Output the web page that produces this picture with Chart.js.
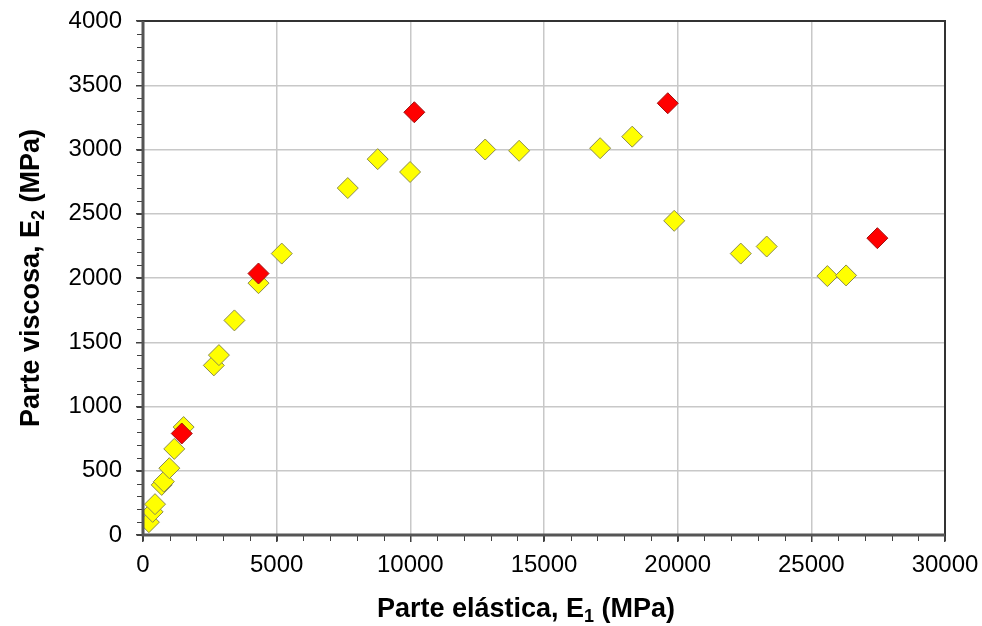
<!DOCTYPE html>
<html lang="es">
<head>
  <meta charset="UTF-8">
  <title>Parte elástica vs parte viscosa</title>
  <style>
    * { margin: 0; padding: 0; box-sizing: border-box; }
    body { background: #fff; width: 982px; height: 626px; overflow: hidden; }
    #wrap { position: relative; width: 982px; height: 626px; }
  </style>
</head>
<body>
  <div id="wrap"><canvas id="chart" width="982" height="626"></canvas></div>

  <script src="https://cdn.jsdelivr.net/npm/chart.js"></script>
  <script>
    // E1 / E2 pairs (MPa)
    const yellowE1 = [220, 360, 450, 700, 780, 985, 1170, 1520, 2650, 2840, 3420, 4320, 5190,
                      7660, 8780, 9990, 12800, 14070, 17100, 18300, 19870, 22360, 23330, 25600, 26300];
    const yellowE2 = [100, 180, 240, 390, 415, 520, 670, 840, 1320, 1400, 1670, 1960, 2190,
                      2700, 2925, 2825, 3000, 2990, 3010, 3100, 2445, 2190, 2245, 2015, 2020];
    const redE1 = [1450, 4320, 10150, 19630, 27470];
    const redE2 = [790, 2035, 3290, 3360, 2310];

    const xTicks = [0, 5000, 10000, 15000, 20000, 25000, 30000];
    const yTicks = [0, 500, 1000, 1500, 2000, 2500, 3000, 3500, 4000];
    const xMinorStep = 1000;
    const yMinorStep = 100;

    const FONT = "'Liberation Sans', Arial, sans-serif";

    function pairs(xs, ys) {
      return xs.map((x, i) => ({ x: x, y: ys[i] }));
    }

    // axis titles with subscripts + minor ticks + frame
    const decorations = {
      id: 'decorations',
      afterDraw(chart) {
        const ctx = chart.ctx;
        const a = chart.chartArea;
        const xs = chart.scales.x, ys = chart.scales.y;
        ctx.save();

        // minor ticks
        ctx.strokeStyle = '#404040';
        ctx.lineWidth = 1;
        ctx.beginPath();
        for (let v = 0; v <= xs.max; v += xMinorStep) {
          const px = Math.round(xs.getPixelForValue(v)) + 0.5;
          ctx.moveTo(px, a.bottom);
          ctx.lineTo(px, a.bottom + 6);
        }
        for (let v = 0; v <= ys.max; v += yMinorStep) {
          const py = Math.round(ys.getPixelForValue(v)) + 0.5;
          ctx.moveTo(a.left, py);
          ctx.lineTo(a.left - 6, py);
        }
        ctx.stroke();

        // plot frame
        ctx.strokeStyle = '#333';
        ctx.lineWidth = 2;
        ctx.strokeRect(a.left, a.top, a.right - a.left, a.bottom - a.top);
        ctx.strokeStyle = '#555';
        ctx.lineWidth = 3;
        ctx.beginPath();
        ctx.moveTo(a.left, a.top);
        ctx.lineTo(a.left, a.bottom);
        ctx.lineTo(a.right, a.bottom);
        ctx.stroke();

        // titles
        ctx.fillStyle = '#000';
        ctx.textBaseline = 'alphabetic';
        drawSubTitle(ctx, ['Parte elástica, E', '1', ' (MPa)'], 526, 617, 0);
        drawSubTitle(ctx, ['Parte viscosa, E', '2', ' (MPa)'], 39, (a.top + a.bottom) / 2, -Math.PI / 2);
        ctx.restore();
      }
    };

    function drawSubTitle(ctx, parts, cx, cy, rot) {
      const big = 'bold 27px ' + FONT;
      const small = 'bold 18px ' + FONT;
      ctx.font = big;
      const w0 = ctx.measureText(parts[0]).width;
      const w2 = ctx.measureText(parts[2]).width;
      ctx.font = small;
      const w1 = ctx.measureText(parts[1]).width;
      const total = w0 + w1 + w2;
      ctx.save();
      ctx.translate(cx, cy);
      ctx.rotate(rot);
      let x = -total / 2;
      ctx.textAlign = 'left';
      ctx.font = big;
      ctx.fillText(parts[0], x, 0);
      x += w0;
      ctx.font = small;
      ctx.fillText(parts[1], x, 5);
      x += w1;
      ctx.font = big;
      ctx.fillText(parts[2], x, 0);
      ctx.restore();
    }

    new Chart(document.getElementById('chart'), {
      type: 'scatter',
      data: {
        datasets: [
          {
            label: 'rojo',
            data: pairs(redE1, redE2),
            pointStyle: 'rectRot',
            pointRadius: 10.5,
            pointHoverRadius: 10.5,
            backgroundColor: '#ff0000',
            borderColor: '#a01010',
            borderWidth: 1,
            order: 0
          },
          {
            label: 'amarillo',
            data: pairs(yellowE1, yellowE2),
            pointStyle: 'rectRot',
            pointRadius: 10.5,
            pointHoverRadius: 10.5,
            backgroundColor: '#ffff00',
            borderColor: '#8a8a50',
            borderWidth: 1,
            order: 1
          }
        ]
      },
      options: {
        responsive: false,
        animation: false,
        layout: { padding: { left: 0, top: 21, right: 37, bottom: 0 } },
        plugins: {
          legend: { display: false },
          tooltip: { enabled: false }
        },
        scales: {
          x: {
            type: 'linear',
            min: 0,
            max: 30000,
            afterBuildTicks: s => { s.ticks = xTicks.map(v => ({ value: v })); },
            afterFit: s => { s.height = 91; s.paddingLeft = 0; s.paddingRight = 0; },
            border: { display: false },
            grid: { color: '#c8c8c8', lineWidth: 1.5, tickColor: '#404040', tickLength: 7 },
            ticks: { color: '#000', padding: 9, maxRotation: 0, callback: v => String(v),
                     font: { family: FONT, size: 24 } }
          },
          y: {
            type: 'linear',
            min: 0,
            max: 4000,
            afterBuildTicks: s => { s.ticks = yTicks.map(v => ({ value: v })); },
            afterFit: s => { s.width = 143; s.paddingTop = 0; s.paddingBottom = 0; },
            border: { display: false },
            grid: { color: '#c8c8c8', lineWidth: 1.5, tickColor: '#404040', tickLength: 7 },
            ticks: { color: '#000', padding: 14, callback: v => String(v),
                     font: { family: FONT, size: 24 } }
          }
        }
      },
      plugins: [decorations]
    });
  </script>
</body>
</html>
